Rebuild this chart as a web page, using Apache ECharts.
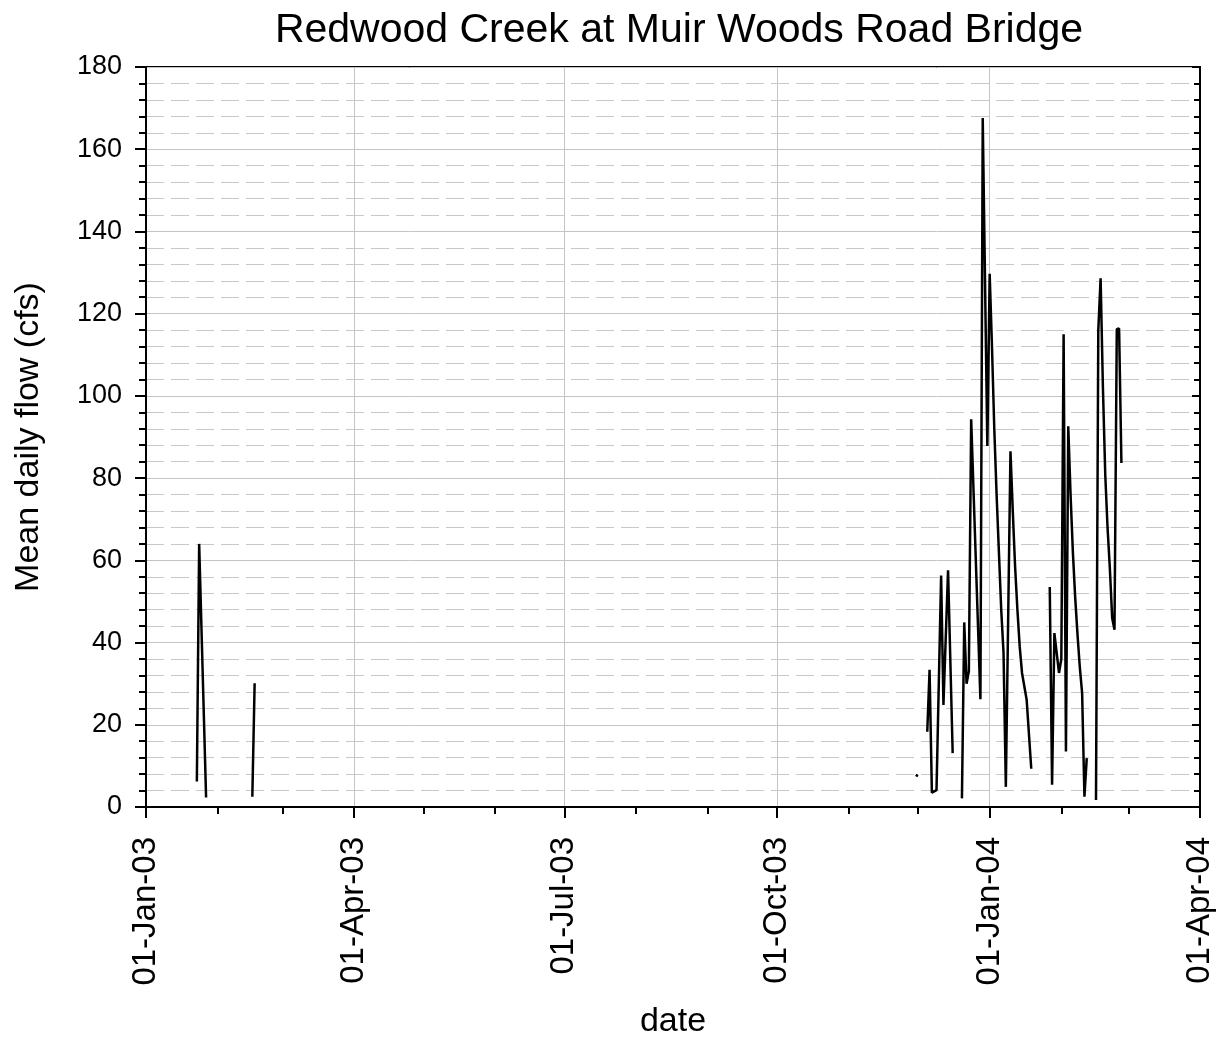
<!DOCTYPE html>
<html>
<head>
<meta charset="utf-8">
<script src="https://cdn.jsdelivr.net/npm/echarts@6/dist/echarts.min.js"></script>
<style>
html,body{margin:0;padding:0;background:#fff;}
#chart{width:1225px;height:1042px;}
</style>
</head>
<body>
<div id="chart"></div>
<script>
// ---- data (null = gap in record) ----
const flowDates = [
  '2003-01-23','2003-01-24','2003-01-27','2003-02-01',
  '2003-02-16','2003-02-17','2003-03-01',
  '2003-11-30','2003-12-01','2003-12-03',
  '2003-12-05','2003-12-06','2003-12-07','2003-12-09','2003-12-11','2003-12-12','2003-12-14','2003-12-16','2003-12-17',
  '2003-12-20','2003-12-21','2003-12-22','2003-12-23','2003-12-24','2003-12-28','2003-12-29','2003-12-31',
  '2004-01-01','2004-01-02','2004-01-03','2004-01-04','2004-01-05','2004-01-06','2004-01-07','2004-01-08',
  '2004-01-10','2004-01-11','2004-01-12','2004-01-13','2004-01-14','2004-01-15','2004-01-17','2004-01-19','2004-01-20',
  '2004-01-27','2004-01-28','2004-01-29','2004-01-31','2004-02-01','2004-02-02','2004-02-03','2004-02-04',
  '2004-02-05','2004-02-06','2004-02-07','2004-02-08','2004-02-09','2004-02-10','2004-02-11','2004-02-12','2004-02-13',
  '2004-02-16','2004-02-17','2004-02-18','2004-02-19','2004-02-20','2004-02-21','2004-02-22','2004-02-23','2004-02-24',
  '2004-02-25','2004-02-26','2004-02-27'
];
const flowValues = [
  6.2, 64.0, 2.3, null,
  2.5, 30.1, null,
  7.8, 7.5, null,
  18.3, 33.4, 3.5, 4.1, 56.3, 24.8, 57.6, 13.1, null,
  2.1, 44.9, 30.0, 33.0, 94.3, 26.2, 167.6, 87.8,
  129.7, 112, 92, 76, 62, 48, 37.5, 4.9,
  86.5, 72, 58.5, 48, 39, 32.6, 26.1, 9.3, null,
  53.5, 5.4, 42.3, 32.6, 36, 115, 13.5, 92.6,
  76, 62, 51, 42, 34, 27.7, 2.5, 11.9, null,
  1.7, 116, 128.6, 102, 81, 68, 58, 46, 43.1,
  116.2, 116.4, 83.7
];
const quarterTicks = ['2003-01-01','2003-04-01','2003-07-01','2003-10-01','2004-01-01','2004-04-01'];
const monthTicks = ['2003-02-01','2003-03-01','2003-05-01','2003-06-01','2003-08-01','2003-09-01',
                    '2003-11-01','2003-12-01','2004-02-01','2004-03-01'];

const ts = s => Date.parse(s + 'T00:00:00Z');
const MONTHS = ['Jan','Feb','Mar','Apr','May','Jun','Jul','Aug','Sep','Oct','Nov','Dec'];
function fmtDate(v){
  const d = new Date(v);
  const dd = String(d.getUTCDate()).padStart(2,'0');
  const yy = String(d.getUTCFullYear() % 100).padStart(2,'0');
  return dd + '-' + MONTHS[d.getUTCMonth()] + '-' + yy;
}
const seriesData = flowDates.map((d, i) => [ts(d), flowValues[i]]);
const xMin = ts(quarterTicks[0]), xMax = ts(quarterTicks[quarterTicks.length - 1]);
const FONT = '"Liberation Sans", Arial, sans-serif';

const chart = echarts.init(document.getElementById('chart'), null, {renderer: 'canvas'});
chart.setOption({
  animation: false,
  backgroundColor: '#fff',
  title: {
    text: 'Redwood Creek at Muir Woods Road Bridge',
    left: 674, top: 5, textAlign: 'center',
    textStyle: {fontFamily: FONT, fontSize: 41, fontWeight: 'normal', color: '#000'}
  },
  grid: {left: 146, right: 25, top: 67, bottom: 235, outerBoundsMode: 'none', containLabel: false,
         show: true, borderColor: '#000', borderWidth: 2, backgroundColor: 'transparent'},
  xAxis: [{
    type: 'value', min: xMin, max: xMax,
    name: 'date', nameLocation: 'middle', nameGap: 198,
    nameTextStyle: {fontFamily: FONT, fontSize: 34, color: '#000'},
    axisLine: {show: true, onZero: false, lineStyle: {color: '#000', width: 2}},
    axisTick: {show: true, inside: false, length: 11, lineStyle: {color: '#000', width: 2}, customValues: quarterTicks.map(ts)},
    axisLabel: {show: true, rotate: 90, margin: 30, fontFamily: FONT, fontSize: 33, color: '#000',
      customValues: quarterTicks.map(ts), formatter: v => fmtDate(v), hideOverlap: false},
    splitLine: {show: true, lineStyle: {color: '#c4c4c4', width: 1}}
  }, {
    type: 'value', min: xMin, max: xMax, position: 'bottom',
    axisLine: {show: false, onZero: false},
    axisTick: {show: true, inside: false, length: 7, lineStyle: {color: '#000', width: 2}, customValues: monthTicks.map(ts)},
    axisLabel: {show: false},
    splitLine: {show: false}
  }],
  yAxis: [{
    type: 'value', min: 0, max: 180, interval: 20, position: 'left',
    name: 'Mean daily flow (cfs)', nameLocation: 'middle', nameGap: 100,
    nameTextStyle: {fontFamily: FONT, fontSize: 34, color: '#000'},
    axisLine: {show: true, onZero: false, lineStyle: {color: '#000', width: 2}},
    axisTick: {show: true, inside: false, length: 11, lineStyle: {color: '#000', width: 2}},
    minorTick: {show: true, splitNumber: 5, length: 7, lineStyle: {color: '#000', width: 2}},
    axisLabel: {show: true, margin: 24, fontFamily: FONT, fontSize: 27, color: '#000'},
    splitLine: {show: true, lineStyle: {color: '#c4c4c4', width: 1}},
    minorSplitLine: {show: true, lineStyle: {color: '#c8c8c8', width: 1, type: [18, 7]}}
  }, {
    type: 'value', min: 0, max: 180, interval: 20, position: 'right',
    axisLine: {show: true, onZero: false, lineStyle: {color: '#000', width: 2}},
    axisTick: {show: true, inside: true, length: 8, lineStyle: {color: '#000', width: 2}},
    minorTick: {show: true, splitNumber: 5, length: 6, lineStyle: {color: '#000', width: 2}},
    axisLabel: {show: false},
    splitLine: {show: false}
  }],
  series: [{
    type: 'line', xAxisIndex: 0, yAxisIndex: 0,
    data: seriesData, showSymbol: false, symbol: 'none', connectNulls: false,
    lineStyle: {color: '#000', width: 2.5}
  }]
});
</script>
</body>
</html>
